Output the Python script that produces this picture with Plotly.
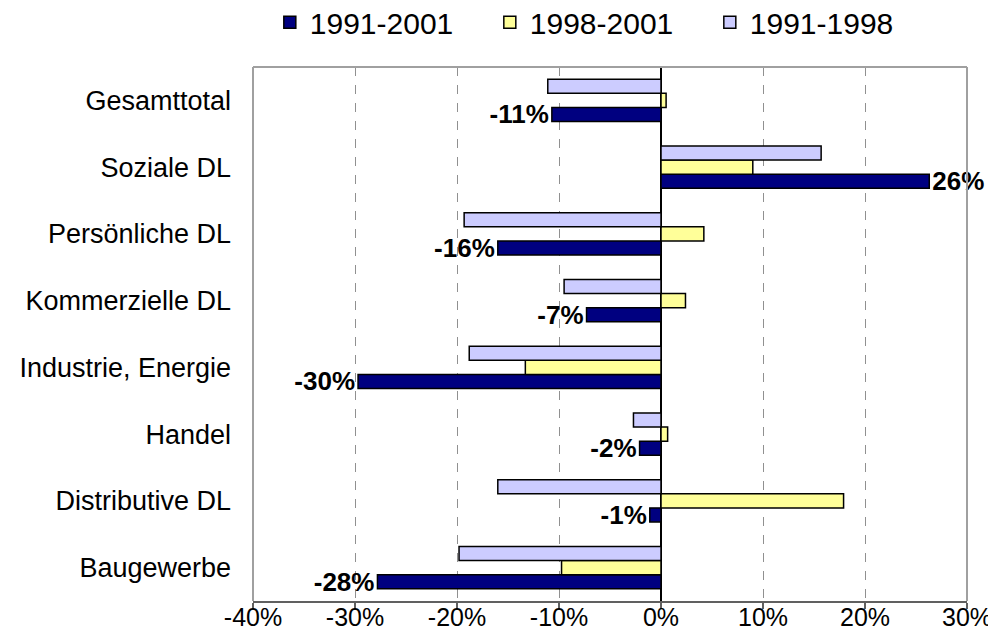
import plotly.graph_objects as go

categories = ["Gesamttotal", "Soziale DL", "Persönliche DL", "Kommerzielle DL",
              "Industrie, Energie", "Handel", "Distributive DL", "Baugewerbe"]
v_1991_2001 = [-0.107, 0.263, -0.160, -0.073, -0.297, -0.021, -0.011, -0.278]
v_1998_2001 = [0.005, 0.090, 0.042, 0.024, -0.133, 0.0065, 0.179, -0.0975]
v_1991_1998 = [-0.111, 0.157, -0.193, -0.095, -0.188, -0.027, -0.160, -0.198]
x_ticks = [-0.4, -0.3, -0.2, -0.1, 0.0, 0.1, 0.2, 0.3]
x_tick_labels = ["-40%", "-30%", "-20%", "-10%", "0%", "10%", "20%", "30%"]

cats = categories[::-1]
labels_1991_2001 = [f"{round(v * 100):d}%" for v in v_1991_2001][::-1]
font = "Liberation Sans, Arial, sans-serif"

fig = go.Figure()
fig.add_trace(go.Bar(
    y=cats, x=v_1991_2001[::-1], orientation="h", name="1991-2001",
    marker=dict(color="#000080", line=dict(color="black", width=1.5)),
    text=labels_1991_2001, textposition="outside", constraintext="none",
    textfont=dict(family=font, size=26, color="black", weight="bold"),
    cliponaxis=False,
))
fig.add_trace(go.Bar(
    y=cats, x=v_1998_2001[::-1], orientation="h", name="1998-2001",
    marker=dict(color="#FFFF99", line=dict(color="black", width=1.5)),
))
fig.add_trace(go.Bar(
    y=cats, x=v_1991_1998[::-1], orientation="h", name="1991-1998",
    marker=dict(color="#CCCCFF", line=dict(color="black", width=1.5)),
))

# page body has an 8px margin: figure is drawn at (8, 8)
fig.update_layout(
    width=988, height=623,
    margin=dict(l=245, r=29, t=59, b=30, autoexpand=False),
    paper_bgcolor="white", plot_bgcolor="white",
    barmode="group", bargap=0.37, bargroupgap=0,
    font=dict(family=font, size=26, color="black"),
    legend=dict(orientation="h", xref="container", x=0.265, xanchor="left",
                yref="container", y=0.977, yanchor="middle",
                font=dict(size=30), traceorder="normal",
                itemwidth=30, entrywidth=175, entrywidthmode="pixels"),
    showlegend=True,
)
fig.update_xaxes(
    range=[-0.4, 0.3], tickvals=x_ticks, ticktext=x_tick_labels,
    showgrid=True, gridcolor="#909090", griddash="dash", gridwidth=1,
    zeroline=True, zerolinecolor="black", zerolinewidth=1.5,
    showline=True, linecolor="#606060", linewidth=2, mirror=False,
    ticks="outside", ticklen=6, tickcolor="#606060", tickwidth=1.5,
    ticklabelstandoff=-13, tickfont=dict(size=25), automargin=False,
)
fig.update_yaxes(
    showgrid=False, ticks="", ticklabelstandoff=21, tickfont=dict(size=27),
    showline=False, automargin=False,
)
# plot border (left, right, top)
fig.add_shape(type="line", xref="paper", yref="paper", x0=0, x1=0, y0=0, y1=1,
              line=dict(color="#a0a0a0", width=2))
fig.add_shape(type="line", xref="paper", yref="paper", x0=1, x1=1, y0=0, y1=1,
              line=dict(color="#a0a0a0", width=2))
fig.add_shape(type="line", xref="paper", yref="paper", x0=0, x1=1, y0=1, y1=1,
              line=dict(color="#a0a0a0", width=2))

fig.write_html("out.html")
